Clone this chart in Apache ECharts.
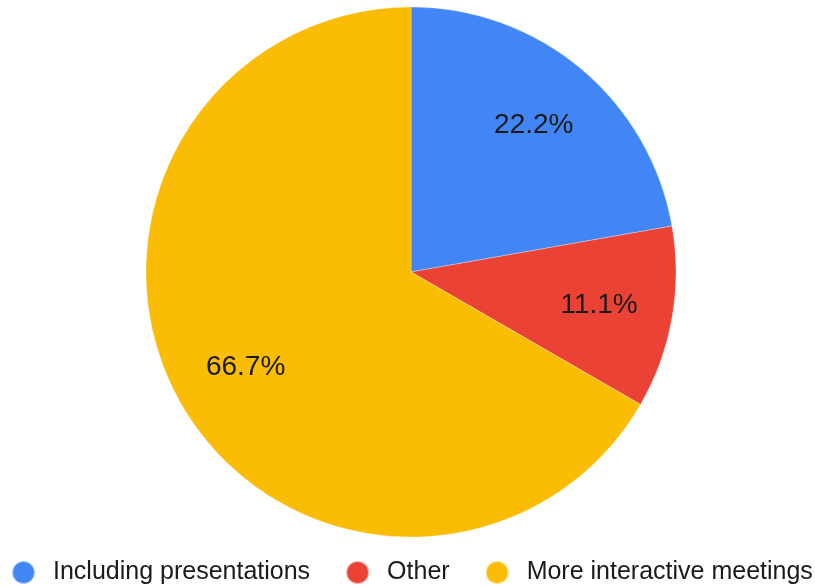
<!DOCTYPE html>
<html><head><meta charset="utf-8">
<script src="https://cdn.jsdelivr.net/npm/echarts@6/dist/echarts.min.js"></script>
<style>html,body{margin:0;padding:0;background:#fff}#c{width:815px;height:587px}</style>
</head><body><div id="c"></div>
<script>
const categories = ['Including presentations', 'Other', 'More interactive meetings'];
const values = [2, 1, 6];
const colors = ['#4285F4', '#EA4335', '#FBBC04'];

const chart = echarts.init(document.getElementById('c'), null, {renderer: 'canvas'});
const data = categories.map((n, i) => ({name: n, value: values[i], itemStyle: {color: colors[i]}}));
const labelData = categories.map((n, i) => ({name: n, value: values[i], itemStyle: {color: 'rgba(0,0,0,0)'}}));
chart.setOption({
  animation: false,
  legend: {
    bottom: -3, left: 11, padding: [5, 0, 5, 0],
    icon: 'circle', itemWidth: 23, itemHeight: 23, itemGap: 35,
    textStyle: {fontFamily: 'Liberation Sans, Arial', fontSize: 25, color: '#1a1a1a', padding: [0, 0, 0, 13]},
    data: categories
  },
  series: [
    {
      type: 'pie', center: [411, 272], radius: [0, 265], startAngle: 90, clockwise: true,
      silent: true,
      itemStyle: {borderColor: 'rgba(255,255,255,0.6)', borderWidth: 0.5},
      label: {show: false}, labelLine: {show: false},
      data: data
    },
    {
      type: 'pie', center: [411, 272], radius: [0, 376], startAngle: 90, clockwise: true,
      silent: true, legendHoverLink: false,
      label: {show: true, position: 'inside', formatter: p => p.percent.toFixed(1) + '%',
        fontFamily: 'Liberation Sans, Arial', fontSize: 28, color: '#1a1a1a'},
      labelLine: {show: false},
      data: labelData
    }
  ]
});
</script></body></html>
